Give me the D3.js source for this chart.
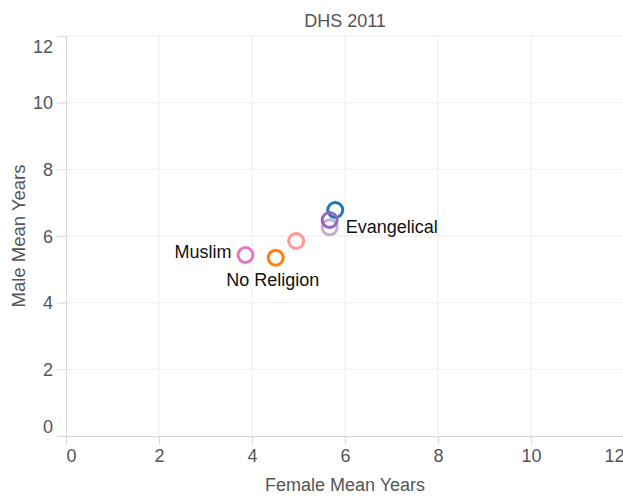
<!DOCTYPE html>
<html>
<head>
<meta charset="utf-8">
<script src="https://cdn.jsdelivr.net/npm/d3@7"></script>
<style>
  body { margin: 0; background: #fff; }
  text { font-family: "Liberation Sans", Arial, sans-serif; }
</style>
</head>
<body>
<div id="chart"></div>
<script>
// data
var religions   = ["Catholic", "Protestant", "Evangelical", "Adventist", "No Religion", "Muslim"];
var femaleYears = [5.79, 5.67, 5.67, 4.95, 4.51, 3.86];
var maleYears   = [6.78, 6.48, 6.26, 5.85, 5.35, 5.43];
var colours     = ["#1f77b4", "#9467bd", "#c5b0d5", "#ff9896", "#ff7f0e", "#e377c2"];
var tickValues  = [0, 2, 4, 6, 8, 10, 12];
var labelled    = ["Evangelical", "No Religion", "Muslim"];

var width = 623, height = 498;
var font = "'Liberation Sans', Arial, sans-serif";

var svg = d3.select("#chart").append("svg")
    .attr("width", width)
    .attr("height", height);

var x = d3.scaleLinear().domain([0, 12]).range([66, 624]);
var y = d3.scaleLinear().domain([0, 12]).range([436, 36]);

// grid
var grid = svg.append("g").attr("class", "grid");
grid.selectAll("line.v")
  .data(tickValues.slice(1))
  .enter().append("line")
    .attr("x1", function(d) { return x(d); })
    .attr("x2", function(d) { return x(d); })
    .attr("y1", y(12)).attr("y2", y(0))
    .attr("stroke", "#ececec").attr("stroke-width", 1);
grid.selectAll("line.h")
  .data(tickValues.slice(1))
  .enter().append("line")
    .attr("y1", function(d) { return y(d); })
    .attr("y2", function(d) { return y(d); })
    .attr("x1", x(0)).attr("x2", x(12))
    .attr("stroke", "#ececec").attr("stroke-width", 1);

// axes
var xAxis = svg.append("g")
  .attr("transform", "translate(0," + y(0) + ")")
  .call(d3.axisBottom(x).tickValues(tickValues).tickSize(8).tickPadding(5));
var yAxis = svg.append("g")
  .attr("transform", "translate(" + x(0) + ",0)")
  .call(d3.axisLeft(y).tickValues(tickValues).tickSize(9).tickPadding(4));

[xAxis, yAxis].forEach(function(a) {
  a.select(".domain").attr("stroke", "#d6d6d6");
  a.selectAll(".tick line").attr("stroke", "#d6d6d6");
  a.selectAll(".tick text")
    .attr("fill", "#555")
    .style("font-size", "18px")
    .style("font-family", font);
});

// flush the end labels like the original
xAxis.selectAll(".tick text")
  .attr("text-anchor", function(d) { return d == 0 ? "start" : (d == 12 ? "end" : "middle"); });
yAxis.selectAll(".tick text")
  .attr("dy", function(d) { return d == 0 ? "-0.2em" : (d == 12 ? "0.9em" : "0.34em"); });

// title + axis titles
svg.append("text")
  .attr("x", (x(0) + x(12)) / 2).attr("y", 27)
  .attr("text-anchor", "middle")
  .attr("fill", "#555")
  .style("font-size", "18px")
  .text("DHS 2011");

svg.append("text")
  .attr("x", (x(0) + x(12)) / 2).attr("y", 491)
  .attr("text-anchor", "middle")
  .attr("fill", "#555")
  .style("font-size", "18px")
  .text("Female Mean Years");

svg.append("text")
  .attr("transform", "translate(25," + y(6) + ") rotate(-90)")
  .attr("text-anchor", "middle")
  .attr("fill", "#555")
  .style("font-size", "18.5px")
  .text("Male Mean Years");

// points
var points = religions.map(function(r, i) {
  return { name: r, fx: femaleYears[i], my: maleYears[i], colour: colours[i] };
});
var drawOrder = [3, 4, 5, 0, 2, 1];

svg.append("g").selectAll("circle")
  .data(drawOrder.map(function(i) { return points[i]; }))
  .enter().append("circle")
    .attr("cx", function(d) { return x(d.fx); })
    .attr("cy", function(d) { return y(d.my); })
    .attr("r", 7.5)
    .attr("fill", "none")
    .attr("stroke", function(d) { return d.colour; })
    .attr("stroke-width", 3);

// point labels
var labelPlace = {
  "Evangelical": { dx: 16, dy: 6, anchor: "start" },
  "Muslim": { dx: -14, dy: 3, anchor: "end" },
  "No Religion": { dx: -3, dy: 28, anchor: "middle" }
};

svg.append("g").selectAll("text")
  .data(points.filter(function(d) { return labelled.indexOf(d.name) >= 0; }))
  .enter().append("text")
    .attr("x", function(d) { return x(d.fx) + labelPlace[d.name].dx; })
    .attr("y", function(d) { return y(d.my) + labelPlace[d.name].dy; })
    .attr("text-anchor", function(d) { return labelPlace[d.name].anchor; })
    .attr("fill", "#111")
    .style("font-size", "18px")
    .text(function(d) { return d.name; });
</script>
</body>
</html>
